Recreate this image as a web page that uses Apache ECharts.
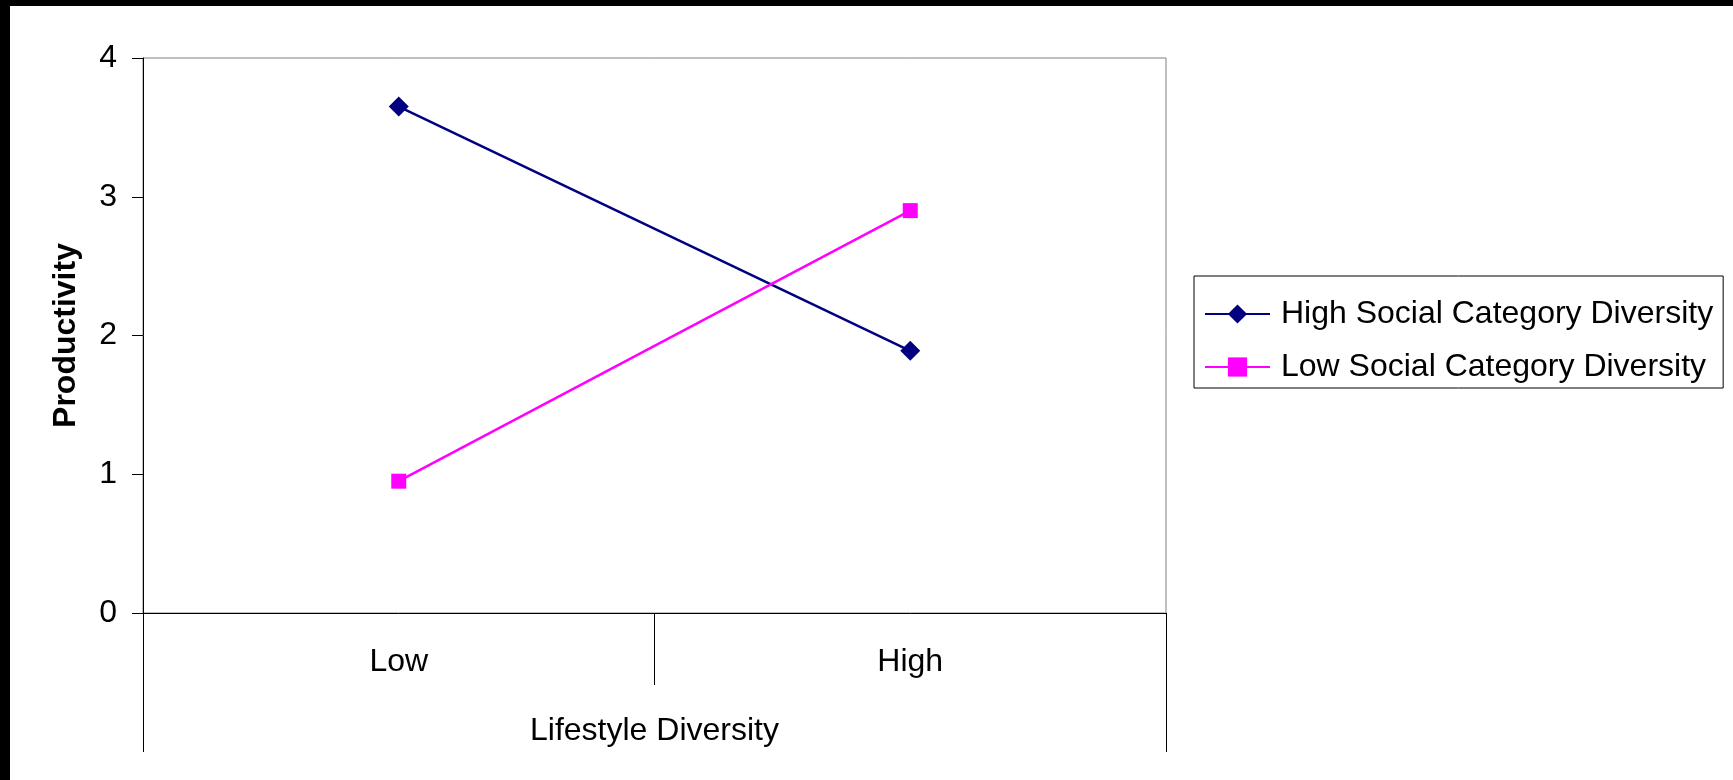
<!DOCTYPE html>
<html>
<head>
<meta charset="utf-8">
<script src="https://cdn.jsdelivr.net/npm/echarts@6/dist/echarts.min.js"></script>
<style>
  html, body { margin: 0; padding: 0; background: #000; width: 1733px; height: 780px; overflow: hidden; }
  #chart { position: absolute; left: 10px; top: 6px; width: 1723px; height: 774px; background: #fff; }
</style>
</head>
<body>
<div id="chart"></div>
<script>
const categories = ['Low', 'High'];
const groupLabel = ['Lifestyle Diversity'];
const seriesNames = ['High Social Category Diversity', 'Low Social Category Diversity'];
const highSocialValues = [3.65, 1.89];
const lowSocialValues = [0.95, 2.90];
const yTicks = [0, 1, 2, 3, 4];

const FONT = "'Liberation Sans', Arial, sans-serif";
const FS = 32;

const chart = echarts.init(document.getElementById('chart'), null, { renderer: 'canvas' });
chart.setOption({
  animation: false,
  backgroundColor: '#fff',
  textStyle: { fontFamily: FONT, color: '#000' },
  grid: {
    left: 133, top: 52, right: 567, bottom: 167,
    show: true, borderColor: '#808080', borderWidth: 1, backgroundColor: 'transparent'
  },
  legend: {
    orient: 'vertical',
    left: 1184, top: 270,
    padding: [22, 10, 5, 10],
    itemGap: 21,
    itemWidth: 65, itemHeight: 24,
    borderColor: '#000', borderWidth: 1,
    textStyle: { fontSize: FS, color: '#000', fontFamily: FONT, padding: [0, 0, 0, 6] },
    data: seriesNames
  },
  xAxis: [{
    type: 'category',
    data: categories,
    position: 'bottom',
    boundaryGap: true,
    axisLine: { show: true, lineStyle: { color: '#000', width: 1 } },
    axisTick: { show: true, length: 72, lineStyle: { color: '#000' } },
    axisLabel: { fontSize: FS, color: '#000', margin: 33, fontFamily: FONT },
    splitLine: { show: false }
  }, {
    type: 'category',
    data: groupLabel,
    position: 'bottom',
    offset: 72,
    boundaryGap: true,
    axisLine: { show: false },
    axisTick: { show: true, length: 67, lineStyle: { color: '#000' } },
    axisLabel: { fontSize: FS, color: '#000', margin: 30, fontFamily: FONT },
    splitLine: { show: false }
  }],
  yAxis: {
    type: 'value',
    min: yTicks[0], max: yTicks[yTicks.length - 1], interval: 1,
    name: 'Productivity',
    nameLocation: 'middle',
    nameRotate: 90,
    nameGap: 61,
    nameTextStyle: { fontSize: FS, fontWeight: 'bold', color: '#000', fontFamily: FONT },
    axisLine: { show: true, lineStyle: { color: '#000', width: 1 } },
    axisTick: { show: true, length: 11, inside: false, lineStyle: { color: '#000' } },
    axisLabel: { fontSize: FS, color: '#000', margin: 26, fontFamily: FONT },
    splitLine: { show: false }
  },
  series: [{
    name: seriesNames[0],
    type: 'line',
    xAxisIndex: 0,
    data: highSocialValues,
    color: '#000080',
    lineStyle: { color: '#000080', width: 2.5 },
    itemStyle: { color: '#000080' },
    symbol: 'diamond',
    symbolSize: 20,
    showSymbol: true
  }, {
    name: seriesNames[1],
    type: 'line',
    xAxisIndex: 0,
    data: lowSocialValues,
    color: '#FF00FF',
    lineStyle: { color: '#FF00FF', width: 2.5 },
    itemStyle: { color: '#FF00FF' },
    symbol: 'rect',
    symbolSize: 15,
    showSymbol: true
  }]
});
</script>
</body>
</html>
